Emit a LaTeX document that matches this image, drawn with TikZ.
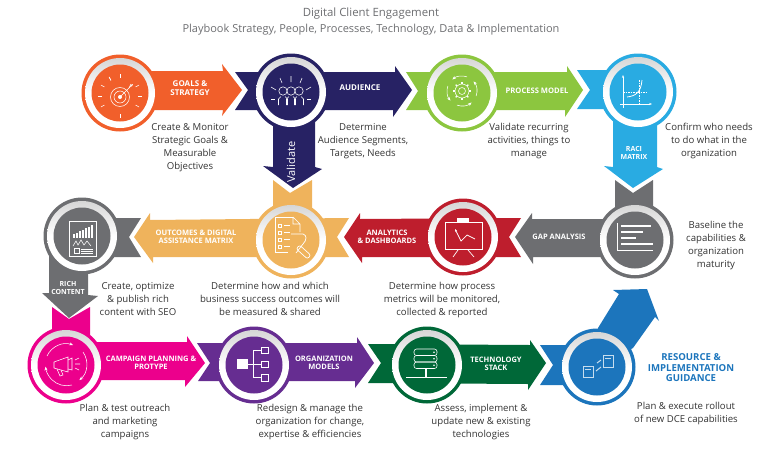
\documentclass[tikz,border=0pt]{standalone}
\usepackage{fontspec}
\setmainfont{Open Sans}
\usetikzlibrary{arrows.meta}

\definecolor{goalorange}{HTML}{F15F2B}
\definecolor{navyblue}{HTML}{272264}
\definecolor{leafgreen}{HTML}{8CC63F}
\definecolor{skyblue}{HTML}{29ABE2}
\definecolor{slategrey}{HTML}{6D6E71}
\definecolor{sandyellow}{HTML}{EFB35C}
\definecolor{crimson}{HTML}{BE1E2D}
\definecolor{hotpink}{HTML}{EC008C}
\definecolor{violet}{HTML}{662D91}
\definecolor{forest}{HTML}{006838}
\definecolor{royal}{HTML}{1C75BC}
\definecolor{inktext}{HTML}{333333}

\tikzset{
  hubring/.style={circle,inner sep=0pt,minimum size=77pt},
  hubshade/.style={circle,inner sep=0pt,minimum size=70pt,top color=black!16,bottom color=white,middle color=white},
  hubcore/.style={circle,inner sep=0pt,minimum size=57pt},
  note/.style={align=center,font=\fontsize{9.6}{13}\selectfont,text=inktext,inner sep=0pt},
  tag/.style={align=center,font=\fontsize{7.5}{8.5}\selectfont\bfseries,text=white,inner sep=0pt},
  icon/.style={draw=white,line width=0.55pt},
  iconfill/.style={fill=white}
}

\newcommand{\hub}[4]{
  \node[hubring,fill=#2] (#1) at (#3,#4) {};
  \node[hubshade] (#1shade) at (#3,#4) {};
  \node[hubcore,fill=#2] (#1core) at (#3,#4) {};
}

\begin{document}
\begin{tikzpicture}[x=1pt,y=-1pt]
\useasboundingbox (0,0) rectangle (768,448);

\node[text=slategrey,font=\fontsize{11.4}{14}\selectfont,inner sep=0pt] (title) at (371,14) {Digital Client Engagement};
\node[text=slategrey,font=\fontsize{11}{14}\selectfont,inner sep=0pt] (subtitle) at (371,30) {Playbook Strategy, People, Processes, Technology, Data \& Implementation};

% top row arrows
\fill[goalorange] (120,71) -- (223,71) -- (222,64) -- (242,90) -- (222,116) -- (223,110) -- (120,110) -- cycle;
\fill[navyblue] (235,72) -- (395,72) -- (395,66) -- (412,90) -- (393,117) -- (393,110) -- (235,110) -- (248,90) -- cycle;
\fill[navyblue] (273,92) -- (315,92) -- (315,167) -- (322,169) -- (293,188) -- (263,166) -- (273,167) -- cycle;
\fill[leafgreen] (406,72) -- (567,72) -- (567,66) -- (583,90) -- (565,117) -- (565,110) -- (406,110) -- (418,91) -- cycle;
\fill[skyblue] (577,70) -- (638,70) -- (638,109) -- (577,109) -- (590,90) -- cycle;
\fill[skyblue] (613,92) -- (657,92) -- (657,167) -- (663,169) -- (633,188) -- (604,166) -- (613,167) -- cycle;

% middle row arrows
\fill[slategrey] (635,219) -- (532,219) -- (532,213) -- (515,237) -- (533,264) -- (533,257) -- (635,257) -- cycle;
\fill[slategrey] (615,180) -- (633,193) -- (653,180) -- (653,240) -- (615,240) -- cycle;
\fill[crimson] (521,218) -- (360,219) -- (360,213) -- (344,237) -- (362,263) -- (362,257) -- (521,257) -- (509,237) -- cycle;
\fill[sandyellow] (349,218) -- (150,220) -- (150,213) -- (134,237) -- (153,263) -- (153,257) -- (349,257) -- (337,237) -- cycle;
\fill[sandyellow] (273,180) -- (290,193) -- (312,180) -- (312,240) -- (273,240) -- cycle;
\fill[slategrey] (141,218) -- (82,218) -- (82,257) -- (141,257) -- (129,237) -- cycle;
\fill[slategrey] (49,236) -- (88,236) -- (88,295) -- (98,296) -- (69,318) -- (42,293) -- (49,293) -- cycle;

% bottom row arrows
\fill[hotpink] (52,307) -- (69,319) -- (90,307) -- (90,365) -- (52,365) -- cycle;
\fill[hotpink] (66,342) -- (187,342) -- (187,336) -- (205,363) -- (185,387) -- (185,380) -- (66,380) -- cycle;
\fill[violet] (197,343) -- (357,343) -- (357,337) -- (374,363) -- (355,388) -- (355,381) -- (198,381) -- (210,363) -- cycle;
\fill[forest] (368,344) -- (530,345) -- (530,340) -- (546,363) -- (528,390) -- (528,384) -- (368,383) -- (381,363) -- cycle;
\fill[royal] (540,345) -- (597,345) -- (597,385) -- (540,385) -- (553,365) -- cycle;
\fill[royal] (598,328) -- (619,294) -- (613,290) -- (647,289) -- (659,321) -- (655,317) -- (633,348) -- (597,367) -- cycle;

\hub{goals}{goalorange}{120}{93}
\hub{audience}{navyblue}{291}{92}
\hub{process}{leafgreen}{462}{93}
\hub{raci}{skyblue}{638}{92}
\hub{rich}{slategrey}{82}{236}
\hub{outcomes}{sandyellow}{291}{240}
\hub{analytics}{crimson}{463}{237}
\hub{gap}{slategrey}{635}{240}
\hub{campaign}{hotpink}{66}{365}
\hub{models}{violet}{254}{365}
\hub{stack}{forest}{427}{365}
\hub{guidance}{royal}{597}{367}

% target
\draw[icon] (120,97) circle (9.5) (120,97) circle (6);
\fill[iconfill] (120,97) circle (2);
\draw[icon,-{Stealth[length=3pt]}] (120,97) -- (133,84);
\draw[icon] (129,88) -- (131,84);
\foreach \ang in {0,30,-30,90,150,180,210,240,-90,-120} {
  \draw[icon] (120,96)+(\ang:18) -- +(\ang:22);
}

% people
\foreach \px in {283,291,299} {
  \draw[icon] (\px,91) circle (4.2);
  \draw[icon] (\px-4.5,105) -- (\px-4.5,99) -- (\px-2,96.5) (\px+4.5,105) -- (\px+4.5,99) -- (\px+2,96.5);
}
\draw[icon] (291,76) -- (291,82) (280,78) -- (282,83) (302,78) -- (300,83) (271,87) -- (276,90) (311,87) -- (306,90);
\draw[icon] (271,99) -- (275,99) (307,99) -- (311,99);

% gear and cycle
\draw[icon] (462,91) circle (3.5) circle (7);
\foreach \ang in {0,45,...,315} {
  \draw[icon,line width=1.3pt] (462,91)+(\ang:7) -- +(\ang:9);
}
\foreach \ang in {20,110,200,290} {
  \draw[icon,-{Stealth[length=4pt]}] (462,91)+(\ang:15) arc[start angle=\ang,delta angle=-60,radius=15];
}

% raci chart
\draw[icon,{Stealth[length=3pt]}-{Stealth[length=3pt]},line width=0.7pt] (623,75) -- (623,104) -- (652,104);
\draw[icon,line width=0.7pt] (620,104) -- (623,104) -- (623,108);
\draw[icon,line width=0.8pt] (627,97) .. controls (636,96) and (641,92) .. (642,80);
\draw[icon,dashed,dash pattern=on 1.5pt off 1pt] (623,92) -- (646,92) (639,80) -- (639,104);

% report
\draw[icon] (69,221) rectangle (96,256);
\foreach \bx/\bh in {73/4,76/5,79/7,82/8,85/10,88/11,91/13} {
  \fill[iconfill] (\bx,238) rectangle (\bx+2,238-\bh);
}
\draw[icon] (73,246) -- (76,241) -- (78,245) -- (81,240) -- (84,245) -- (87,241) -- (91,246);
\draw[icon] (74,248) rectangle (79,253);
\draw[icon] (81,249) -- (93,249) (81,251) -- (93,251) (81,253) -- (93,253);

% checklist and hand
\draw[icon,line width=0.7pt] (293,217) -- (275,217) -- (275,252) -- (288,252);
\draw[icon,line width=0.7pt] (293,217) -- (300,224) -- (300,232) (293,217) -- (293,224) -- (300,224);
\foreach \cy in {226,233,240,247} {
  \draw[icon] (278,\cy-2) rectangle (281,\cy+1);
  \draw[icon] (284,\cy-1) -- (290,\cy-1);
}
\draw[icon,line width=0.7pt] (291,234) -- (303,234) .. controls (307,235) and (307,240) .. (303,244) -- (296,253);
\draw[icon,line width=0.7pt,rounded corners=2pt,rotate around={-42:(303.5,252)}] (296,249.5) rectangle (311,254.5);

% presentation board
\draw[icon,line width=0.7pt] (445,222) rectangle (482,249);
\fill[iconfill] (457,218) rectangle (469,222);
\draw[icon,line width=0.7pt] (458,250) -- (453,257) (468,250) -- (474,257);
\draw[icon,line width=0.7pt,{Stealth[length=3pt]}-] (455,229) -- (461,241) -- (467,235) -- (475,239);

% gap bars
\draw[icon] (617,223) -- (617,250) -- (653,250);
\fill[iconfill] (621,225) rectangle (651,227);
\fill[iconfill] (621,231) rectangle (643,233);
\fill[iconfill] (621,237) rectangle (636,239);
\fill[iconfill] (621,243) rectangle (653,245);

% megaphone and cycle
\draw[icon] (54,362) -- (68,357) -- (68,372) -- (54,368) -- cycle;
\draw[icon] (57,369) -- (60,376) -- (63,375) -- (61,370);
\draw[icon] (68,360) -- (72,358) -- (72,370) -- (68,369);
\draw[icon] (75,360) -- (79,358) (75,364) -- (80,364) (75,368) -- (79,370);
\draw[icon,-{Stealth[length=4pt]}] (47,356) arc[start angle=-155,end angle=-70,radius=21];
\draw[icon,-{Stealth[length=4pt]}] (83,352) arc[start angle=-35,end angle=50,radius=21];
\draw[icon,-{Stealth[length=4pt]}] (72,385) arc[start angle=75,end angle=175,radius=21];

% organisation tree
\fill[iconfill] (237,359) rectangle (248,369);
\draw[icon,line width=0.7pt] (248,364) -- (253,364) (253,350) -- (253,377) (253,350) -- (261,350) (253,364) -- (261,364) (253,377) -- (261,377);
\draw[icon,line width=0.7pt] (261,347) rectangle (268,353) (261,361) rectangle (268,367) (261,374) rectangle (268,381);

% server stack
\foreach \sy in {349,355.5,362} {
  \draw[icon,rounded corners=2.5pt] (414,\sy) rectangle (437,\sy+6.5);
  \fill[iconfill] (434,\sy+3.2) circle (0.9);
}
\draw[icon,line width=1.2pt] (426,369) -- (426,377);
\draw[icon] (406,377) -- (447,377);

% linked documents
\draw[white!75!royal,line width=0.7pt] (583,366) rectangle (593,377) (603,355) rectangle (613,367);
\draw[white!75!royal,line width=0.7pt] (585,369) -- (591,369) (605,358) -- (611,358);
\draw[white!75!royal,line width=1pt] (597,363) -- (601,360) (596,371) -- (601,367);

% step tags
\node[tag,font=\fontsize{8}{8.5}\selectfont\bfseries] (goalstag) at (190,88) {GOALS \&\\STRATEGY};
\node[tag,font=\fontsize{8}{8.5}\selectfont\bfseries] (audiencetag) at (360,88) {AUDIENCE};
\node[tag,font=\fontsize{7.6}{8.5}\selectfont\bfseries] (processtag) at (537,91) {PROCESS MODEL};
\node[tag,font=\fontsize{7}{8.5}\selectfont\bfseries] (racitag) at (634,153) {RACI\\MATRIX};
\node[text=white,rotate=90,font=\fontsize{11}{12}\selectfont,inner sep=0pt] (validatetag) at (291,162) {Validate};
\node[tag] (outcomestag) at (196,237) {OUTCOMES \& DIGITAL\\ASSISTANCE MATRIX};
\node[tag] (analyticstag) at (387,237) {ANALYTICS\\\& DASHBOARDS};
\node[tag] (gaptag) at (559,237) {GAP ANALYSIS};
\node[tag,font=\fontsize{7}{8.5}\selectfont\bfseries] (richtag) at (68,288) {RICH\\CONTENT};
\node[tag] (campaigntag) at (151,363) {CAMPAIGN PLANNING \&\\PROTYPE};
\node[tag] (modelstag) at (324,363) {ORGANIZATION\\MODELS};
\node[tag] (stacktag) at (496,364) {TECHNOLOGY\\STACK};
\node[align=center,text=royal,font=\fontsize{9.6}{10.5}\selectfont\bfseries,inner sep=0pt] (guidancetag) at (691,368) {RESOURCE \&\\IMPLEMENTATION\\GUIDANCE};

% step notes
\node[note] (goalsnote) at (190,147.5) {Create \& Monitor\\Strategic Goals \&\\Measurable\\Objectives};
\node[note] (audiencenote) at (363,141) {Determine\\Audience Segments,\\Targets, Needs};
\node[note] (processnote) at (529,141) {Validate recurring\\activities, things to\\manage};
\node[note] (racinote) at (709,141) {Confirm who needs\\to do what in the\\organization};
\node[note] (richnote) at (138,299) {Create, optimize\\\& publish rich\\content with SEO};
\node[note] (outcomesnote) at (270,299) {Determine how and which\\business success outcomes will\\be measured \& shared};
\node[note] (analyticsnote) at (442,300) {Determine how process\\metrics will be monitored,\\collected \& reported};
\node[note] (gapnote) at (716,245.5) {Baseline the\\capabilities \&\\organization\\maturity};
\node[note] (campaignnote) at (125,422) {Plan \& test outreach\\and marketing\\campaigns};
\node[note] (modelsnote) at (310,422) {Redesign \& manage the\\organization for change,\\expertise \& efficiencies};
\node[note] (stacknote) at (481,422) {Assess, implement \&\\update new \& existing\\technologies};
\node[note] (guidancenote) at (686,413) {Plan \& execute rollout\\of new DCE capabilities};
\end{tikzpicture}
\end{document}
